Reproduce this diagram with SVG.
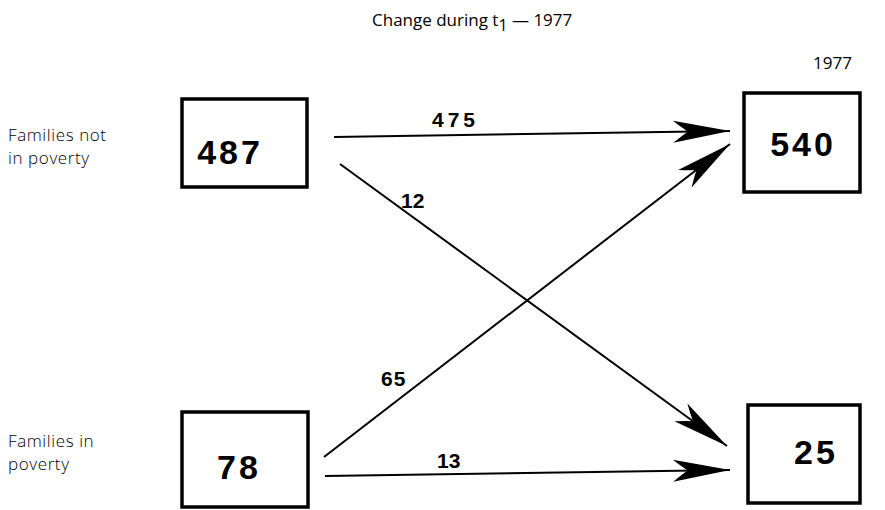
<svg xmlns="http://www.w3.org/2000/svg" width="885" height="510" viewBox="0 0 885 510">
<defs>
<style>
.box{fill:#fff;stroke:#000;stroke-width:3.5}
.num{font-family:"Liberation Sans",Arial,sans-serif;font-weight:bold;font-size:34px;letter-spacing:3px;text-anchor:middle;fill:#000}
.lbl{font-family:"Liberation Sans",Arial,sans-serif;font-weight:bold;font-size:21px;fill:#000}
.side{font-family:"Open Sans","DejaVu Sans",sans-serif;font-weight:300;font-size:17px;letter-spacing:0.6px;fill:#000}
.title{font-family:"Open Sans","DejaVu Sans",sans-serif;font-size:17px;fill:#000}
.ln{stroke:#000;stroke-width:2;fill:none}
</style>
<marker id="ah" markerUnits="userSpaceOnUse" markerWidth="60" markerHeight="28" viewBox="-58 -14 60 28" refX="0" refY="0" orient="auto">
<path d="M0,0 L-57,-11 Q-47,-3 -42,0 Q-47,3 -57,11 Z" fill="#000"/>
</marker>
</defs>
<text class="title" x="372" y="26">Change during t<tspan font-size="16" dy="5">1</tspan><tspan dy="-5"> — 1977</tspan></text>
<text class="title" x="813" y="69">1977</text>
<text class="side" x="8" y="141">Families not</text>
<text class="side" x="8" y="164">in poverty</text>
<text class="side" x="8" y="447">Families in</text>
<text class="side" x="8" y="470">poverty</text>
<g id="n487"><rect class="box" x="182" y="99" width="125" height="88"/><text class="num" x="230" y="164">487</text></g>
<g id="n78"><rect class="box" x="182" y="412" width="126" height="95"/><text class="num" x="239" y="479">78</text></g>
<g id="n540"><rect class="box" x="744" y="93" width="116" height="99"/><text class="num" x="803" y="156">540</text></g>
<g id="n25"><rect class="box" x="748" y="405" width="112" height="98"/><text class="num" x="816" y="464">25</text></g>
<g id="connectors">
<line class="ln" x1="334" y1="137" x2="730" y2="131" marker-end="url(#ah)"/>
<line class="ln" x1="340" y1="164" x2="727" y2="446" marker-end="url(#ah)"/>
<line class="ln" x1="324" y1="457" x2="730" y2="144" marker-end="url(#ah)"/>
<line class="ln" x1="325" y1="476" x2="730" y2="470" marker-end="url(#ah)"/>
<text class="lbl" x="432" y="127" letter-spacing="4">475</text>
<text class="lbl" x="401" y="208">12</text>
<text class="lbl" x="381" y="386" letter-spacing="1">65</text>
<text class="lbl" x="437" y="468">13</text>
</g>
</svg>
